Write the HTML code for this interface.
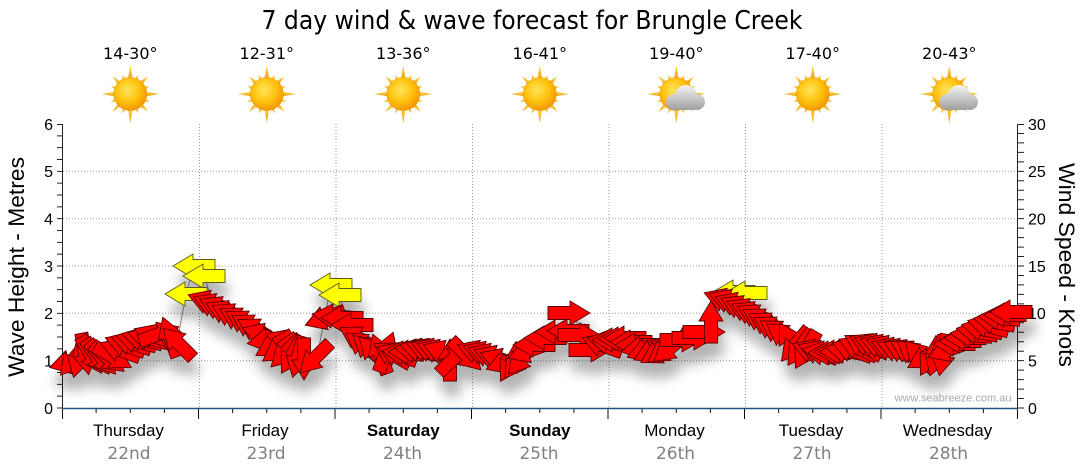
<!DOCTYPE html>
<html><head><meta charset="utf-8"><style>
html,body{margin:0;padding:0;background:#fff;}
svg{display:block;}
</style></head><body>
<svg width="1080" height="475" viewBox="0 0 1080 475" xmlns="http://www.w3.org/2000/svg" xmlns:xlink="http://www.w3.org/1999/xlink">
<defs>
<path id="ar" d="M-21,-6.5 H1 V-12 L21,0 L1,12 V6.5 H-21 Z"/>
<path id="ay" d="M-19,-5 H0 V-10 L-1,-10 L-19,0 Z"/>
<radialGradient id="sg" cx="0.42" cy="0.38" r="0.65">
<stop offset="0" stop-color="#ffe45a"/><stop offset="0.55" stop-color="#ffc20e"/><stop offset="1" stop-color="#f29400"/>
</radialGradient>
<linearGradient id="rg" x1="0" y1="0" x2="0" y2="1">
<stop offset="0" stop-color="#ffd84a"/><stop offset="1" stop-color="#f0a010"/>
</linearGradient>
<linearGradient id="cg" gradientUnits="userSpaceOnUse" x1="0" y1="-14" x2="0" y2="12">
<stop offset="0" stop-color="#f4f4f4"/><stop offset="1" stop-color="#9c9c9c"/>
</linearGradient>
<g id="sun">
<g fill="url(#rg)">
<polygon points="-2.6,-14 0,-29 2.6,-14"/>
<polygon points="-2.6,14 0,29 2.6,14"/>
<polygon points="-14,-2.6 -29,0 -14,2.6"/>
<polygon points="14,-2.6 29,0 14,2.6"/>
<g transform="rotate(45)">
<polygon points="-2.4,-14 0,-25 2.4,-14"/><polygon points="-2.4,14 0,25 2.4,14"/>
<polygon points="-14,-2.4 -25,0 -14,2.4"/><polygon points="14,-2.4 25,0 14,2.4"/>
</g>
<g transform="rotate(22.5)">
<polygon points="-2,-14 0,-21 2,-14"/><polygon points="-2,14 0,21 2,14"/>
<polygon points="-14,-2 -21,0 -14,2"/><polygon points="14,-2 21,0 14,2"/>
</g>
<g transform="rotate(67.5)">
<polygon points="-2,-14 0,-21 2,-14"/><polygon points="-2,14 0,21 2,14"/>
<polygon points="-14,-2 -21,0 -14,2"/><polygon points="14,-2 21,0 14,2"/>
</g>
</g>
<circle r="16.5" fill="url(#sg)" stroke="#e89a10" stroke-width="0.6"/>
</g>
<g id="cloud" fill="url(#cg)" stroke="none">
<circle cx="2" cy="-3" r="11"/>
<circle cx="-10" cy="3" r="8"/>
<circle cx="13" cy="3" r="8"/>
<rect x="-12" y="0" width="26" height="11" rx="5"/>
</g>
<filter id="sh" x="-10%" y="-30%" width="120%" height="190%">
<feGaussianBlur in="SourceAlpha" stdDeviation="6"/>
<feOffset dx="3" dy="15"/>
<feComponentTransfer><feFuncA type="linear" slope="0.3"/></feComponentTransfer>
<feMerge><feMergeNode/><feMergeNode in="SourceGraphic"/></feMerge>
</filter>
</defs>

<text x="532" y="29" font-family="DejaVu Sans, Liberation Sans, sans-serif" font-size="26" text-anchor="middle" textLength="541" lengthAdjust="spacingAndGlyphs" fill="#000">7 day wind &amp; wave forecast for Brungle Creek</text>

<g font-family="DejaVu Sans, Liberation Sans, sans-serif" font-size="16" text-anchor="middle" fill="#000">
<text x="130.3" y="59">14-30°</text>
<text x="266.8" y="59">12-31°</text>
<text x="403.3" y="59">13-36°</text>
<text x="539.8" y="59">16-41°</text>
<text x="676.3" y="59">19-40°</text>
<text x="812.8" y="59">17-40°</text>
<text x="949.3" y="59">20-43°</text>
</g>

<use xlink:href="#sun" href="#sun" x="130.3" y="94"/>
<use xlink:href="#sun" href="#sun" x="266.8" y="94"/>
<use xlink:href="#sun" href="#sun" x="403.3" y="94"/>
<use xlink:href="#sun" href="#sun" x="539.8" y="94"/>
<use xlink:href="#sun" href="#sun" x="676.3" y="94"/>
<use xlink:href="#cloud" href="#cloud" x="684" y="99"/>
<use xlink:href="#sun" href="#sun" x="812.8" y="94"/>
<use xlink:href="#sun" href="#sun" x="949.3" y="94"/>
<use xlink:href="#cloud" href="#cloud" x="957" y="99"/>

<g stroke="#9a9a9a" stroke-width="1" stroke-dasharray="1 2" fill="none">
<path d="M63,360.7 H1017 M63,313.3 H1017 M63,266 H1017 M63,218.7 H1017 M63,171.3 H1017"/>
<path d="M199.5,124 V408 M336,124 V408 M472.5,124 V408 M609,124 V408 M745.5,124 V408 M882,124 V408"/>
</g>

<g stroke="#222" stroke-width="1" fill="none">
<path d="M62.5,124 V408"/>
<path d="M57,408 H62 M57,396.17 H62 M57,384.33 H62 M57,372.5 H62 M57,360.67 H62 M57,348.83 H62 M57,337 H62 M57,325.17 H62 M57,313.33 H62 M57,301.5 H62 M57,289.67 H62 M57,277.83 H62 M57,266 H62 M57,254.17 H62 M57,242.33 H62 M57,230.5 H62 M57,218.67 H62 M57,206.83 H62 M57,195 H62 M57,183.17 H62 M57,171.33 H62 M57,159.5 H62 M57,147.67 H62 M57,135.83 H62 M57,124.5 H62"/>
</g>
<g font-family="Liberation Sans, Arial, sans-serif" font-size="16" text-anchor="end" fill="#000">
<text x="53" y="414">0</text>
<text x="53" y="366.5">1</text>
<text x="53" y="319">2</text>
<text x="53" y="271.8">3</text>
<text x="53" y="224.5">4</text>
<text x="53" y="177">5</text>
<text x="53" y="130">6</text>
</g>
<text transform="translate(24,267) rotate(-90)" font-family="Liberation Sans, Arial, sans-serif" font-size="22" text-anchor="middle" textLength="220" lengthAdjust="spacingAndGlyphs" fill="#000">Wave Height - Metres</text>

<g stroke="#222" stroke-width="1" fill="none">
<path d="M1017.5,124 V408"/>
<path d="M1018,408 H1024 M1018,398.53 H1024 M1018,389.07 H1024 M1018,379.6 H1024 M1018,370.13 H1024 M1018,360.67 H1024 M1018,351.2 H1024 M1018,341.73 H1024 M1018,332.27 H1024 M1018,322.8 H1024 M1018,313.33 H1024 M1018,303.87 H1024 M1018,294.4 H1024 M1018,284.93 H1024 M1018,275.47 H1024 M1018,266 H1024 M1018,256.53 H1024 M1018,247.07 H1024 M1018,237.6 H1024 M1018,228.13 H1024 M1018,218.67 H1024 M1018,209.2 H1024 M1018,199.73 H1024 M1018,190.27 H1024 M1018,180.8 H1024 M1018,171.33 H1024 M1018,161.87 H1024 M1018,152.4 H1024 M1018,142.93 H1024 M1018,133.47 H1024 M1018,124.5 H1024"/>
</g>
<g font-family="Liberation Sans, Arial, sans-serif" font-size="16" text-anchor="start" fill="#000">
<text x="1028" y="414">0</text>
<text x="1028" y="366.5">5</text>
<text x="1028" y="319">10</text>
<text x="1028" y="271.8">15</text>
<text x="1028" y="224.5">20</text>
<text x="1028" y="177">25</text>
<text x="1028" y="130">30</text>
</g>
<text transform="translate(1059,265) rotate(90)" font-family="Liberation Sans, Arial, sans-serif" font-size="22" text-anchor="middle" textLength="204" lengthAdjust="spacingAndGlyphs" fill="#000">Wind Speed - Knots</text>

<g stroke="#111" stroke-width="1" fill="none">
<path d="M62.5,408 V419 M96.1,408 V413 M130.3,408 V413 M164.4,408 V413 M198.5,408 V419 M232.6,408 V413 M266.8,408 V413 M300.9,408 V413 M335,408 V419 M369.1,408 V413 M403.3,408 V413 M437.4,408 V413 M471.5,408 V419 M505.6,408 V413 M539.8,408 V413 M573.9,408 V413 M608,408 V419 M642.1,408 V413 M676.3,408 V413 M710.4,408 V413 M744.5,408 V419 M778.6,408 V413 M812.8,408 V413 M846.9,408 V413 M881,408 V419 M915.1,408 V413 M949.3,408 V413 M983.4,408 V413 M1017.5,408 V419"/>
</g>
<path d="M62,408.5 H1018" stroke="#1d5580" stroke-width="1.6"/>

<text x="953" y="401.5" font-family="Liberation Sans, Arial, sans-serif" font-size="11" text-anchor="middle" textLength="117" lengthAdjust="spacingAndGlyphs" fill="#aaaaaa">www.seabreeze.com.au</text>

<g font-family="Liberation Sans, Arial, sans-serif" font-size="17" text-anchor="middle" fill="#000">
<text x="128.5" y="436">Thursday</text>
<text x="265" y="436">Friday</text>
<text x="403.3" y="436" font-weight="bold">Saturday</text>
<text x="539.8" y="436" font-weight="bold">Sunday</text>
<text x="674.5" y="436">Monday</text>
<text x="811" y="436">Tuesday</text>
<text x="947.5" y="436">Wednesday</text>
</g>
<g font-family="DejaVu Sans, Liberation Sans, sans-serif" font-size="17" text-anchor="middle" fill="#808080">
<text x="129" y="459">22nd</text>
<text x="266" y="459">23rd</text>
<text x="402.5" y="459">24th</text>
<text x="539" y="459">25th</text>
<text x="675.5" y="459">26th</text>
<text x="812" y="459">27th</text>
<text x="948.5" y="459">28th</text>
</g>

<g stroke="#8a8a8a" stroke-width="1" fill="none">
<polyline points="178,337 186,294 194,266 204,276 212,300"/>
<polyline points="317,357 331,285 340,295 343,310"/>
<polyline points="563,327 569,315 580,325"/>
<polyline points="711,320 732,292 745,292 752,312"/>
</g>

<g filter="url(#sh)">
<g fill="#ffff00" stroke="#5a5a20" stroke-width="0.9">
<use href="#ar" xlink:href="#ar" transform="translate(194,266) rotate(180)"/>
<use href="#ar" xlink:href="#ar" transform="translate(204,276) rotate(180)"/>
<use href="#ar" xlink:href="#ar" transform="translate(186,294) rotate(180)"/>
<use href="#ar" xlink:href="#ar" transform="translate(331,285) rotate(180)"/>
<use href="#ar" xlink:href="#ar" transform="translate(340,295) rotate(180)"/>
<use href="#ar" xlink:href="#ar" transform="translate(734,292) rotate(180)"/>
<use href="#ar" xlink:href="#ar" transform="translate(746,293) rotate(180)"/>
</g>
<g fill="#ff0000" stroke="#5a0000" stroke-width="0.9">
<use href="#ar" xlink:href="#ar" transform="translate(70,362) rotate(165)"/>
<use href="#ar" xlink:href="#ar" transform="translate(74,359) rotate(130)"/>
<use href="#ar" xlink:href="#ar" transform="translate(79,357) rotate(105)"/>
<use href="#ar" xlink:href="#ar" transform="translate(85,354) rotate(80)"/>
<use href="#ar" xlink:href="#ar" transform="translate(91,355) rotate(60)"/>
<use href="#ar" xlink:href="#ar" transform="translate(97,357) rotate(55)"/>
<use href="#ar" xlink:href="#ar" transform="translate(102,358) rotate(50)"/>
<use href="#ar" xlink:href="#ar" transform="translate(108,358) rotate(40)"/>
<use href="#ar" xlink:href="#ar" transform="translate(113,357) rotate(30)"/>
<use href="#ar" xlink:href="#ar" transform="translate(120,350) rotate(200)"/>
<use href="#ar" xlink:href="#ar" transform="translate(125,345) rotate(200)"/>
<use href="#ar" xlink:href="#ar" transform="translate(131,343) rotate(198)"/>
<use href="#ar" xlink:href="#ar" transform="translate(136,341) rotate(195)"/>
<use href="#ar" xlink:href="#ar" transform="translate(142,339) rotate(195)"/>
<use href="#ar" xlink:href="#ar" transform="translate(148,338) rotate(195)"/>
<use href="#ar" xlink:href="#ar" transform="translate(154,336) rotate(200)"/>
<use href="#ar" xlink:href="#ar" transform="translate(159,334) rotate(340)"/>
<use href="#ar" xlink:href="#ar" transform="translate(170,337) rotate(250)"/>
<use href="#ar" xlink:href="#ar" transform="translate(178,343) rotate(225)"/>

<use href="#ar" xlink:href="#ar" transform="translate(208,302) rotate(200)"/>
<use href="#ar" xlink:href="#ar" transform="translate(213,305) rotate(203)"/>
<use href="#ar" xlink:href="#ar" transform="translate(219,308) rotate(205)"/>
<use href="#ar" xlink:href="#ar" transform="translate(225,312) rotate(205)"/>
<use href="#ar" xlink:href="#ar" transform="translate(231,315) rotate(207)"/>
<use href="#ar" xlink:href="#ar" transform="translate(238,319) rotate(210)"/>
<use href="#ar" xlink:href="#ar" transform="translate(244,322) rotate(210)"/>
<use href="#ar" xlink:href="#ar" transform="translate(250,326) rotate(210)"/>
<use href="#ar" xlink:href="#ar" transform="translate(256,330) rotate(210)"/>
<use href="#ar" xlink:href="#ar" transform="translate(262,335) rotate(200)"/>
<use href="#ar" xlink:href="#ar" transform="translate(268,340) rotate(170)"/>
<use href="#ar" xlink:href="#ar" transform="translate(274,345) rotate(150)"/>
<use href="#ar" xlink:href="#ar" transform="translate(280,349) rotate(145)"/>
<use href="#ar" xlink:href="#ar" transform="translate(286,352) rotate(135)"/>
<use href="#ar" xlink:href="#ar" transform="translate(292,355) rotate(120)"/>
<use href="#ar" xlink:href="#ar" transform="translate(298,357) rotate(105)"/>
<use href="#ar" xlink:href="#ar" transform="translate(304,359) rotate(90)"/>
<use href="#ar" xlink:href="#ar" transform="translate(315,358) rotate(135)"/>
<use href="#ar" xlink:href="#ar" transform="translate(325,318) rotate(160)"/>
<use href="#ar" xlink:href="#ar" transform="translate(333,316) rotate(185)"/>

<use href="#ar" xlink:href="#ar" transform="translate(342,318) rotate(180)"/>
<use href="#ar" xlink:href="#ar" transform="translate(352,325) rotate(180)"/>
<use href="#ar" xlink:href="#ar" transform="translate(358,338) rotate(210)"/>
<use href="#ar" xlink:href="#ar" transform="translate(363,345) rotate(215)"/>
<use href="#ar" xlink:href="#ar" transform="translate(369,349) rotate(220)"/>
<use href="#ar" xlink:href="#ar" transform="translate(374,352) rotate(225)"/>
<use href="#ar" xlink:href="#ar" transform="translate(380,354) rotate(250)"/>
<use href="#ar" xlink:href="#ar" transform="translate(386,352) rotate(290)"/>
<use href="#ar" xlink:href="#ar" transform="translate(392,354) rotate(210)"/>
<use href="#ar" xlink:href="#ar" transform="translate(397,354) rotate(200)"/>
<use href="#ar" xlink:href="#ar" transform="translate(403,353) rotate(185)"/>
<use href="#ar" xlink:href="#ar" transform="translate(409,352) rotate(180)"/>
<use href="#ar" xlink:href="#ar" transform="translate(415,351) rotate(190)"/>
<use href="#ar" xlink:href="#ar" transform="translate(420,350) rotate(195)"/>
<use href="#ar" xlink:href="#ar" transform="translate(426,350) rotate(200)"/>
<use href="#ar" xlink:href="#ar" transform="translate(431,350) rotate(200)"/>
<use href="#ar" xlink:href="#ar" transform="translate(437,351) rotate(200)"/>
<use href="#ar" xlink:href="#ar" transform="translate(443,352) rotate(200)"/>
<use href="#ar" xlink:href="#ar" transform="translate(450,360) rotate(270)"/>
<use href="#ar" xlink:href="#ar" transform="translate(454,358) rotate(315)"/>
<use href="#ar" xlink:href="#ar" transform="translate(466,355) rotate(45)"/>

<use href="#ar" xlink:href="#ar" transform="translate(477,352) rotate(200)"/>
<use href="#ar" xlink:href="#ar" transform="translate(483,353) rotate(200)"/>
<use href="#ar" xlink:href="#ar" transform="translate(488,355) rotate(200)"/>
<use href="#ar" xlink:href="#ar" transform="translate(494,357) rotate(200)"/>
<use href="#ar" xlink:href="#ar" transform="translate(500,360) rotate(200)"/>
<use href="#ar" xlink:href="#ar" transform="translate(506,362) rotate(160)"/>
<use href="#ar" xlink:href="#ar" transform="translate(511,363) rotate(120)"/>
<use href="#ar" xlink:href="#ar" transform="translate(517,361) rotate(125)"/>
<use href="#ar" xlink:href="#ar" transform="translate(522,358) rotate(130)"/>
<use href="#ar" xlink:href="#ar" transform="translate(528,351) rotate(160)"/>
<use href="#ar" xlink:href="#ar" transform="translate(534,345) rotate(180)"/>
<use href="#ar" xlink:href="#ar" transform="translate(545,338) rotate(180)"/>
<use href="#ar" xlink:href="#ar" transform="translate(556,332) rotate(180)"/>
<use href="#ar" xlink:href="#ar" transform="translate(569,313) rotate(0)"/>
<use href="#ar" xlink:href="#ar" transform="translate(568,331) rotate(180)"/>
<use href="#ar" xlink:href="#ar" transform="translate(579,335) rotate(0)"/>
<use href="#ar" xlink:href="#ar" transform="translate(590,350) rotate(0)"/>
<use href="#ar" xlink:href="#ar" transform="translate(602,345) rotate(200)"/>

<use href="#ar" xlink:href="#ar" transform="translate(608,342) rotate(190)"/>
<use href="#ar" xlink:href="#ar" transform="translate(613,340) rotate(180)"/>
<use href="#ar" xlink:href="#ar" transform="translate(619,339) rotate(180)"/>
<use href="#ar" xlink:href="#ar" transform="translate(625,338) rotate(180)"/>
<use href="#ar" xlink:href="#ar" transform="translate(631,342) rotate(180)"/>
<use href="#ar" xlink:href="#ar" transform="translate(636,345) rotate(180)"/>
<use href="#ar" xlink:href="#ar" transform="translate(642,348) rotate(170)"/>
<use href="#ar" xlink:href="#ar" transform="translate(647,350) rotate(160)"/>
<use href="#ar" xlink:href="#ar" transform="translate(653,351) rotate(155)"/>
<use href="#ar" xlink:href="#ar" transform="translate(659,352) rotate(150)"/>
<use href="#ar" xlink:href="#ar" transform="translate(665,350) rotate(145)"/>
<use href="#ar" xlink:href="#ar" transform="translate(670,348) rotate(140)"/>
<use href="#ar" xlink:href="#ar" transform="translate(681,340) rotate(0)"/>
<use href="#ar" xlink:href="#ar" transform="translate(693,338) rotate(0)"/>
<use href="#ar" xlink:href="#ar" transform="translate(704,332) rotate(0)"/>
<use href="#ar" xlink:href="#ar" transform="translate(711,322) rotate(270)"/>
<use href="#ar" xlink:href="#ar" transform="translate(724,300) rotate(200)"/>
<use href="#ar" xlink:href="#ar" transform="translate(729,301) rotate(200)"/>
<use href="#ar" xlink:href="#ar" transform="translate(735,304) rotate(200)"/>
<use href="#ar" xlink:href="#ar" transform="translate(740,307) rotate(205)"/>
<use href="#ar" xlink:href="#ar" transform="translate(746,310) rotate(205)"/>
<use href="#ar" xlink:href="#ar" transform="translate(751,313) rotate(205)"/>
<use href="#ar" xlink:href="#ar" transform="translate(756,316) rotate(208)"/>
<use href="#ar" xlink:href="#ar" transform="translate(761,320) rotate(210)"/>
<use href="#ar" xlink:href="#ar" transform="translate(767,324) rotate(210)"/>
<use href="#ar" xlink:href="#ar" transform="translate(772,328) rotate(210)"/>
<use href="#ar" xlink:href="#ar" transform="translate(778,332) rotate(212)"/>
<use href="#ar" xlink:href="#ar" transform="translate(784,336) rotate(215)"/>
<use href="#ar" xlink:href="#ar" transform="translate(790,341) rotate(240)"/>
<use href="#ar" xlink:href="#ar" transform="translate(795,345) rotate(130)"/>
<use href="#ar" xlink:href="#ar" transform="translate(800,348) rotate(125)"/>
<use href="#ar" xlink:href="#ar" transform="translate(806,350) rotate(120)"/>

<use href="#ar" xlink:href="#ar" transform="translate(812,351) rotate(200)"/>
<use href="#ar" xlink:href="#ar" transform="translate(818,352) rotate(200)"/>
<use href="#ar" xlink:href="#ar" transform="translate(823,353) rotate(190)"/>
<use href="#ar" xlink:href="#ar" transform="translate(829,353) rotate(180)"/>
<use href="#ar" xlink:href="#ar" transform="translate(835,352) rotate(180)"/>
<use href="#ar" xlink:href="#ar" transform="translate(840,352) rotate(180)"/>
<use href="#ar" xlink:href="#ar" transform="translate(846,351) rotate(190)"/>
<use href="#ar" xlink:href="#ar" transform="translate(852,350) rotate(200)"/>
<use href="#ar" xlink:href="#ar" transform="translate(858,348) rotate(205)"/>
<use href="#ar" xlink:href="#ar" transform="translate(863,346) rotate(210)"/>
<use href="#ar" xlink:href="#ar" transform="translate(869,345) rotate(205)"/>
<use href="#ar" xlink:href="#ar" transform="translate(874,345) rotate(200)"/>
<use href="#ar" xlink:href="#ar" transform="translate(880,346) rotate(200)"/>

<use href="#ar" xlink:href="#ar" transform="translate(886,347) rotate(200)"/>
<use href="#ar" xlink:href="#ar" transform="translate(891,349) rotate(200)"/>
<use href="#ar" xlink:href="#ar" transform="translate(897,350) rotate(200)"/>
<use href="#ar" xlink:href="#ar" transform="translate(903,351) rotate(205)"/>
<use href="#ar" xlink:href="#ar" transform="translate(909,352) rotate(210)"/>
<use href="#ar" xlink:href="#ar" transform="translate(914,354) rotate(218)"/>
<use href="#ar" xlink:href="#ar" transform="translate(920,356) rotate(225)"/>
<use href="#ar" xlink:href="#ar" transform="translate(926,357) rotate(150)"/>
<use href="#ar" xlink:href="#ar" transform="translate(931,357) rotate(120)"/>
<use href="#ar" xlink:href="#ar" transform="translate(937,356) rotate(110)"/>
<use href="#ar" xlink:href="#ar" transform="translate(943,355) rotate(100)"/>
<use href="#ar" xlink:href="#ar" transform="translate(948,350) rotate(160)"/>
<use href="#ar" xlink:href="#ar" transform="translate(954,344) rotate(180)"/>
<use href="#ar" xlink:href="#ar" transform="translate(960,341) rotate(180)"/>
<use href="#ar" xlink:href="#ar" transform="translate(965,338) rotate(180)"/>
<use href="#ar" xlink:href="#ar" transform="translate(971,335) rotate(185)"/>
<use href="#ar" xlink:href="#ar" transform="translate(977,332) rotate(190)"/>
<use href="#ar" xlink:href="#ar" transform="translate(982,329) rotate(192)"/>
<use href="#ar" xlink:href="#ar" transform="translate(988,326) rotate(195)"/>
<use href="#ar" xlink:href="#ar" transform="translate(994,322) rotate(190)"/>
<use href="#ar" xlink:href="#ar" transform="translate(999,318) rotate(185)"/>
<use href="#ar" xlink:href="#ar" transform="translate(1005,315) rotate(180)"/>
<use href="#ar" xlink:href="#ar" transform="translate(1011,312) rotate(180)"/>
</g>
</g>
</svg>
</body></html>
